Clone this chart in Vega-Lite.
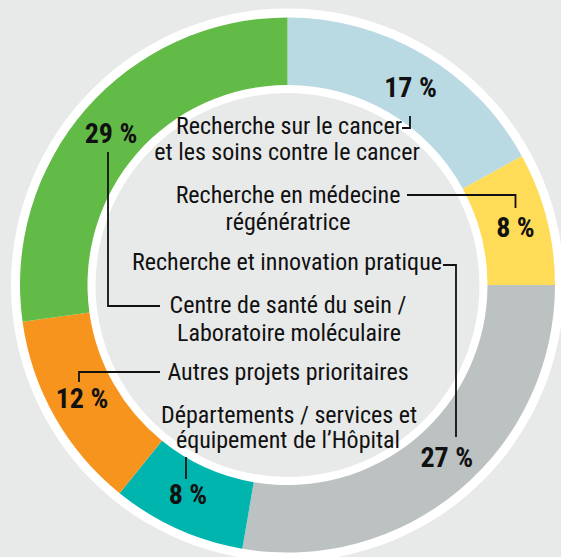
{
  "$schema": "https://vega.github.io/schema/vega-lite/v6.json",
  "width": 547,
  "height": 544,
  "padding": {"left": 14, "top": 13, "right": 0, "bottom": 0},
  "autosize": {"type": "none"},
  "background": "#e8e9e9",
  "config": {"view": {"stroke": null}},
  "datasets": {
    "segments": [
      {"idx": 1, "category": "Recherche sur le cancer et les soins contre le cancer", "share": 17, "pct": 17},
      {"idx": 2, "category": "Recherche en médecine régénératrice", "share": 8, "pct": 8},
      {"idx": 3, "category": "Recherche et innovation pratique", "share": 27.7, "pct": 27},
      {"idx": 4, "category": "Départements / services et équipement de l'Hôpital", "share": 8.1, "pct": 8},
      {"idx": 5, "category": "Autres projets prioritaires", "share": 12, "pct": 12},
      {"idx": 6, "category": "Centre de santé du sein / Laboratoire moléculaire", "share": 27.2, "pct": 29}
    ],
    "names": [
      {"line": "Recherche sur le cancer", "x": 1, "y": -151},
      {"line": "et les soins contre le cancer", "x": -1, "y": -125},
      {"line": "Recherche en médecine", "x": 0, "y": -82},
      {"line": "régénératrice", "x": 0, "y": -55},
      {"line": "Recherche et innovation pratique", "x": -1, "y": -15},
      {"line": "Centre de santé du sein /", "x": 0, "y": 28},
      {"line": "Laboratoire moléculaire", "x": 1, "y": 56},
      {"line": "Autres projets prioritaires", "x": 0, "y": 95},
      {"line": "Départements / services et", "x": 1, "y": 137.5},
      {"line": "équipement de l’Hôpital", "x": 0, "y": 162.5}
    ],
    "pcts": [
      {"label": "17 %", "x": 122.5, "y": -188},
      {"label": "8 %", "x": 227.5, "y": -48},
      {"label": "27 %", "x": 158.7, "y": 182},
      {"label": "8 %", "x": -100, "y": 219},
      {"label": "12 %", "x": -206, "y": 123},
      {"label": "29 %", "x": -177, "y": -142}
    ],
    "leaders": [
      {"id": 1, "seq": 1, "x": 114, "y": -157},
      {"id": 1, "seq": 2, "x": 122, "y": -157},
      {"id": 1, "seq": 3, "x": 122, "y": -169},
      {"id": 2, "seq": 1, "x": 119, "y": -90},
      {"id": 2, "seq": 2, "x": 227.5, "y": -90},
      {"id": 2, "seq": 3, "x": 227.5, "y": -77},
      {"id": 3, "seq": 1, "x": 155, "y": -20},
      {"id": 3, "seq": 2, "x": 168, "y": -20},
      {"id": 3, "seq": 3, "x": 168, "y": 152},
      {"id": 4, "seq": 1, "x": -180, "y": -133},
      {"id": 4, "seq": 2, "x": -180, "y": 21},
      {"id": 4, "seq": 3, "x": -128, "y": 21},
      {"id": 5, "seq": 1, "x": -128, "y": 87},
      {"id": 5, "seq": 2, "x": -209, "y": 87},
      {"id": 5, "seq": 3, "x": -209, "y": 97},
      {"id": 6, "seq": 1, "x": -102, "y": 172},
      {"id": 6, "seq": 2, "x": -102, "y": 194}
    ]
  },
  "layer": [
    {
      "data": {"values": [{"disc": "outer"}]},
      "mark": {"type": "arc", "theta": 0, "theta2": 6.2832, "radius": 276.5, "radius2": 0, "fill": "#ffffff"},
      "encoding": {}
    },
    {
      "data": {"name": "segments"},
      "mark": {"type": "arc", "outerRadius": 267.5, "innerRadius": 200, "stroke": null},
      "encoding": {
        "theta": {"field": "share", "type": "quantitative", "stack": true},
        "order": {"field": "idx", "type": "quantitative"},
        "color": {
          "field": "category",
          "type": "nominal",
          "legend": null,
          "sort": {"field": "idx"},
          "scale": {
            "domain": [
              "Recherche sur le cancer et les soins contre le cancer",
              "Recherche en médecine régénératrice",
              "Recherche et innovation pratique",
              "Départements / services et équipement de l'Hôpital",
              "Autres projets prioritaires",
              "Centre de santé du sein / Laboratoire moléculaire"
            ],
            "range": ["#b9d9e3", "#ffdc57", "#bcc1c1", "#00b5ad", "#f7941e", "#63bb47"]
          }
        }
      }
    },
    {
      "data": {"values": [{"disc": "inner"}]},
      "mark": {"type": "arc", "theta": 0, "theta2": 6.2832, "radius": 192, "radius2": 0, "fill": "#e8e9e9"},
      "encoding": {}
    },
    {
      "data": {"name": "leaders"},
      "mark": {"type": "line", "color": "#111111", "strokeWidth": 1.8, "interpolate": "linear"},
      "encoding": {
        "x": {"field": "x", "type": "quantitative", "axis": null, "scale": {"domain": [-274, 273], "nice": false, "zero": false}},
        "y": {"field": "y", "type": "quantitative", "axis": null, "scale": {"domain": [-272, 272], "reverse": true, "nice": false, "zero": false}},
        "detail": {"field": "id", "type": "nominal"},
        "order": {"field": "seq", "type": "quantitative"}
      }
    },
    {
      "data": {"name": "names"},
      "mark": {"type": "text", "align": "center", "baseline": "alphabetic", "font": "Roboto Condensed, Liberation Sans Narrow, Arial Narrow, Noto Sans", "fontSize": 24, "color": "#111111"},
      "encoding": {
        "x": {"field": "x", "type": "quantitative", "axis": null, "scale": {"domain": [-274, 273], "nice": false, "zero": false}},
        "y": {"field": "y", "type": "quantitative", "axis": null, "scale": {"domain": [-272, 272], "reverse": true, "nice": false, "zero": false}},
        "text": {"field": "line"}
      }
    },
    {
      "data": {"name": "pcts"},
      "mark": {"type": "text", "align": "center", "baseline": "alphabetic", "font": "Roboto Condensed, Liberation Sans Narrow, Arial Narrow, Noto Sans", "fontWeight": "bold", "fontSize": 28, "color": "#111111"},
      "encoding": {
        "x": {"field": "x", "type": "quantitative", "axis": null, "scale": {"domain": [-274, 273], "nice": false, "zero": false}},
        "y": {"field": "y", "type": "quantitative", "axis": null, "scale": {"domain": [-272, 272], "reverse": true, "nice": false, "zero": false}},
        "text": {"field": "label"}
      }
    }
  ]
}
